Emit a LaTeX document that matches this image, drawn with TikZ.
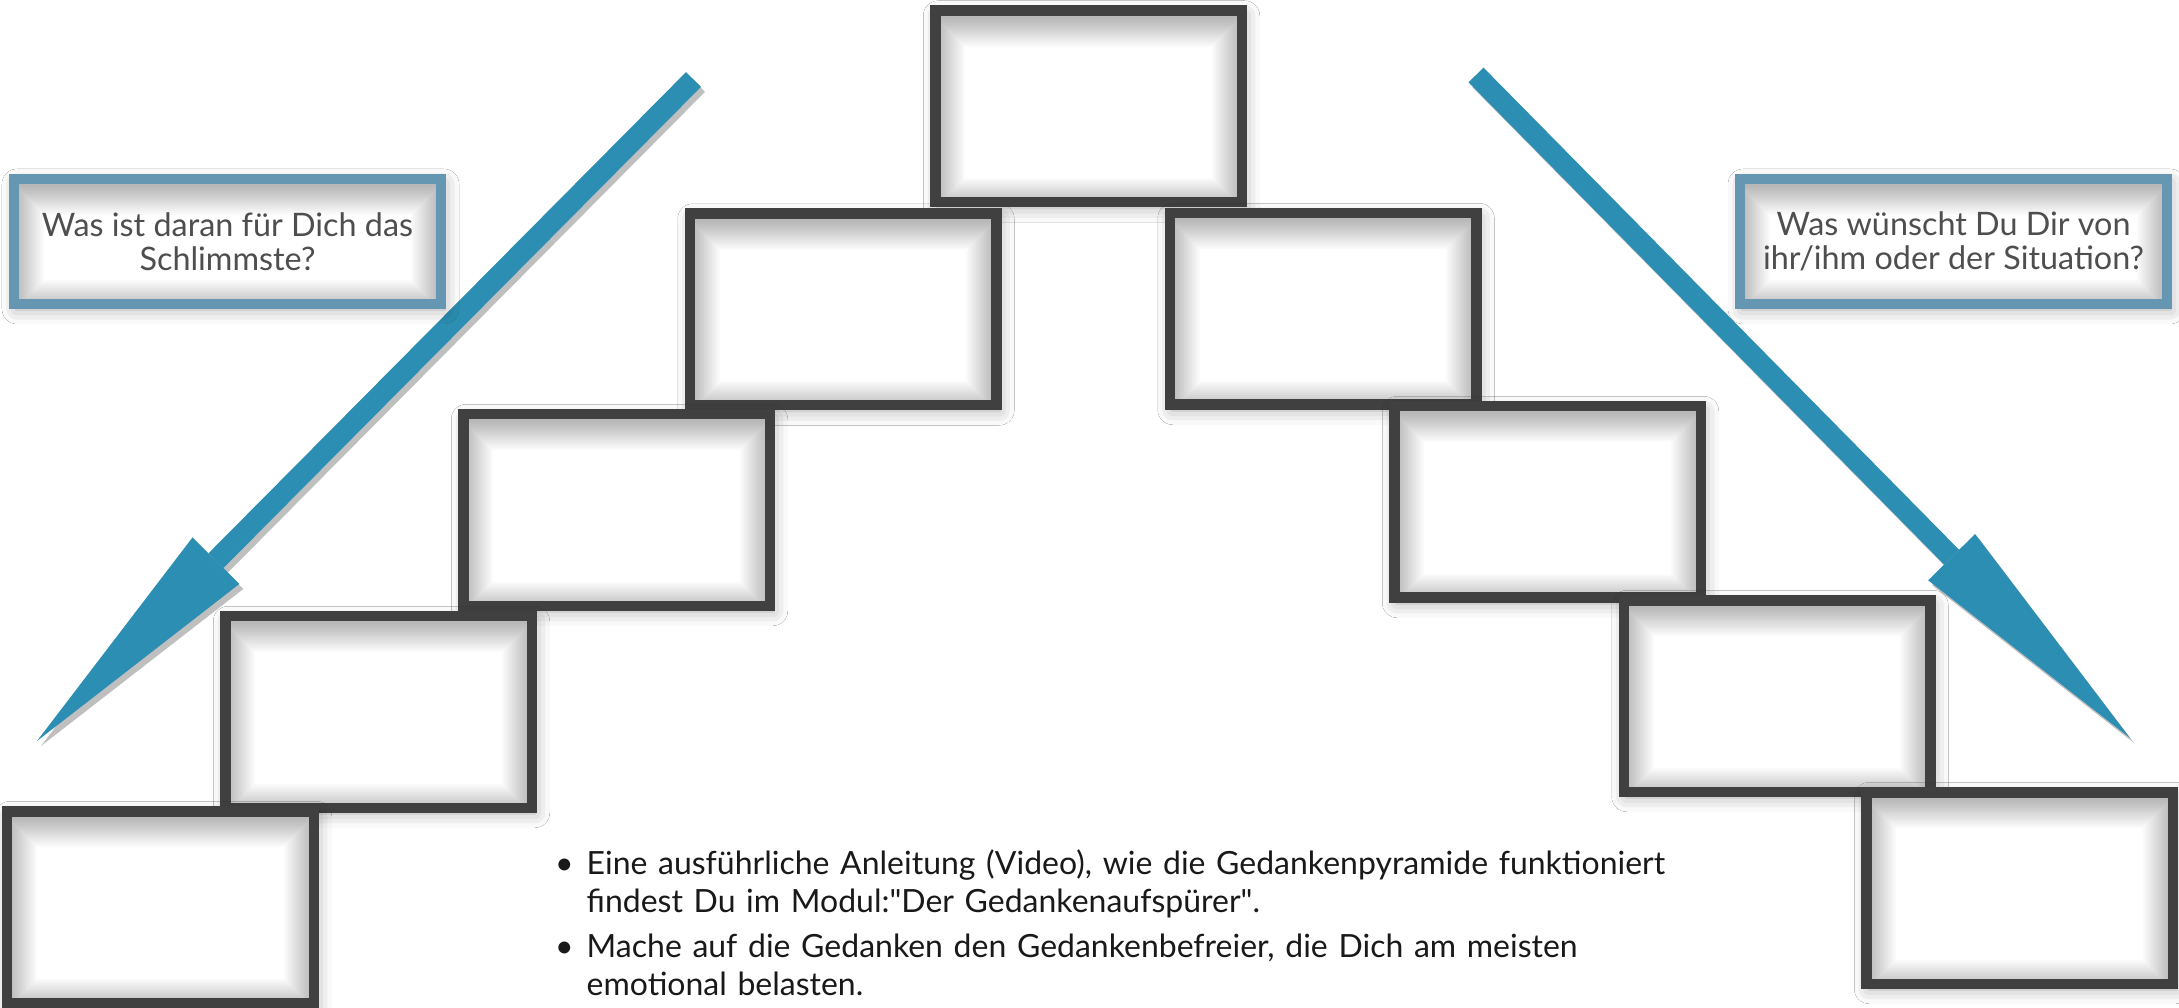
\documentclass[tikz,border=0pt]{standalone}
\usepackage{fontspec}
\setmainfont{Lato}
\usepackage{enumitem}
\usetikzlibrary{arrows.meta,shadows.blur}
\definecolor{boxgray}{RGB}{64,64,64}
\definecolor{askblue}{RGB}{101,151,179}
\definecolor{arrowblue}{RGB}{44,142,178}
\definecolor{textgray}{RGB}{78,78,78}
\begin{document}
\begin{tikzpicture}[
  glow/.style={
    path picture={
      \foreach \w in {0.04,0.08,...,0.64}
        \draw[line width=\w cm, line join=round, black, opacity=0.018]
          ([yshift=-0.06cm]path picture bounding box.south west) rectangle
          ([yshift=-0.06cm]path picture bounding box.north east);
    }
  },
  softshadow/.style={
    blur shadow={shadow xshift=0.03cm, shadow yshift=-0.05cm,
      shadow blur radius=0.15cm, shadow opacity=35}
  },
  box/.style={
    draw=boxgray,
    line width=0.105cm,
    fill=white,
    minimum width=3.065cm,
    minimum height=1.915cm,
    inner sep=0pt,
    softshadow,
    glow
  },
  ask/.style={
    draw=askblue,
    line width=0.1cm,
    fill=white,
    minimum width=4.27cm,
    minimum height=1.25cm,
    align=center,
    text=textgray,
    font=\fontsize{9.2}{9.7}\selectfont,
    softshadow,
    glow
  },
  hints/.style={
    text width=12.4cm,
    inner sep=0pt,
    text=black!90,
    font=\fontsize{9.1}{10.8}\selectfont
  },
  bigarrow/.style={
    arrowblue,
    line width=0.21cm,
    -{Triangle[length=2.54cm, width=0.66cm, line width=0pt]}
  },
  arrowshadow/.style={
    bigarrow,
    black,
    opacity=0.25,
    transform canvas={shift={(0.04,-0.05)}}
  }
]
\path[use as bounding box, fill=white] (0,0) rectangle (21.79,-10.08);

% arrows
\coordinate (worsttail) at (6.935,-0.795);
\coordinate (worsttip) at (0.37,-7.41);
\coordinate (wishtail) at (14.76,-0.75);
\coordinate (wishtip) at (21.30,-7.38);
\draw[arrowshadow] (worsttail) -- (worsttip);
\draw[arrowshadow] (wishtail) -- (wishtip);
\draw[bigarrow] (worsttail) -- (worsttip);
\draw[bigarrow] (wishtail) -- (wishtip);

% pyramid
\node[box] (peak) at (10.885,-1.065) {};
\node[box] (left1) at (8.43,-3.095) {};
\node[box] (right1) at (13.23,-3.09) {};
\node[box] (left2) at (6.165,-5.10) {};
\node[box] (right2) at (15.475,-5.02) {};
\node[box] (left3) at (3.785,-7.12) {};
\node[box] (right3) at (17.77,-6.96) {};
\node[box] (left4) at (1.605,-9.07) {};
\node[box] (right4) at (20.195,-8.88) {};

% questions
\node[ask] (worst) at (2.275,-2.415) {Was ist daran für Dich das\\Schlimmste?};
\node[ask] (wish) at (19.535,-2.415) {Was wünscht Du Dir von\\ihr/ihm oder der Situation?};

\node[hints, anchor=north west] (notes) at (5.66,-8.36) {%
  \begin{itemize}[label=\textbullet, leftmargin=0.2cm, labelsep=0.13cm,
    itemsep=0.07cm, topsep=0pt, parsep=0pt, partopsep=0pt]
  \item Eine ausführliche Anleitung (Video), wie die Gedankenpyramide funktioniert\newline
    findest Du im Modul:\textquotedbl Der Gedankenaufspürer\textquotedbl.
  \item Mache auf die Gedanken den Gedankenbefreier, die Dich am meisten\newline
    emotional belasten.
  \end{itemize}};
\end{tikzpicture}
\end{document}
